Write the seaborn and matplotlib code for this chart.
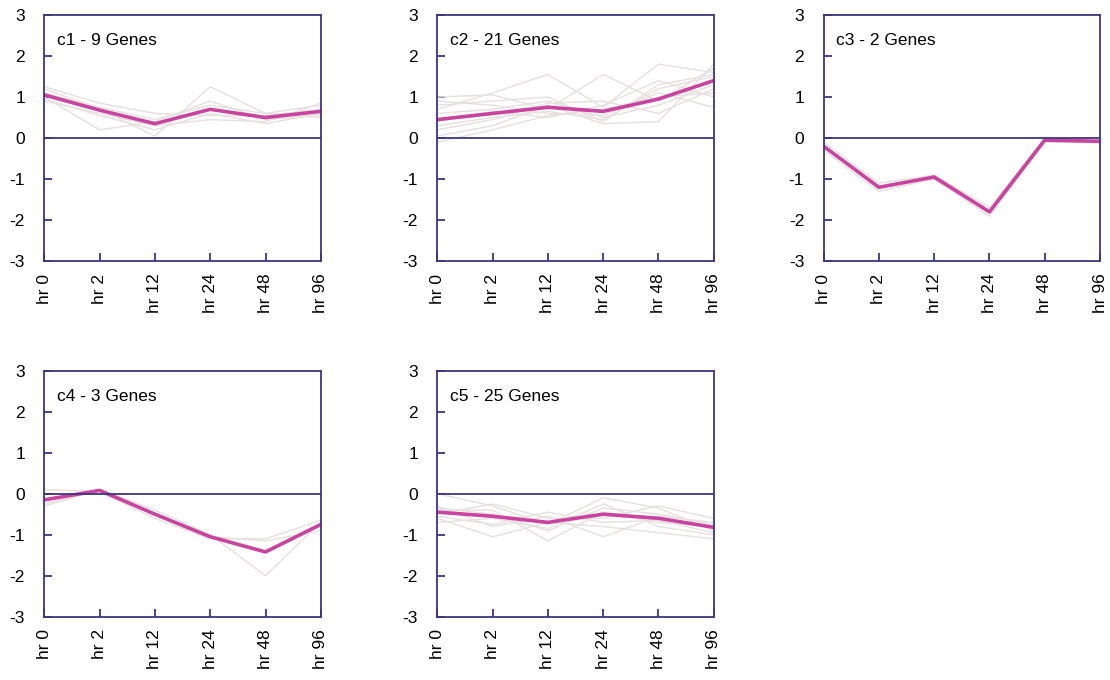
import pandas as pd
import matplotlib
matplotlib.use('Agg')
import matplotlib.pyplot as plt
import seaborn as sns

plt.rcParams['font.family'] = ['Liberation Sans', 'DejaVu Sans']

# Puntos de tiempo y etiquetas
timepoints = ['hr 0', 'hr 2', 'hr 12', 'hr 24', 'hr 48', 'hr 96']
cluster_titles = ['c1 - 9 Genes', 'c2 - 21 Genes', 'c3 - 2 Genes', 'c4 - 3 Genes', 'c5 - 25 Genes']

# Perfil medio de cada cluster
c1_mean = [1.05, 0.68, 0.35, 0.70, 0.50, 0.65]
c2_mean = [0.45, 0.60, 0.75, 0.65, 0.95, 1.40]
c3_mean = [-0.20, -1.20, -0.95, -1.80, -0.05, -0.08]
c4_mean = [-0.15, 0.08, -0.50, -1.05, -1.42, -0.75]
c5_mean = [-0.45, -0.55, -0.70, -0.50, -0.60, -0.82]

# Perfiles individuales de genes (estimados)
c1_genes = [
    [1.20, 0.70, 0.05, 1.25, 0.60, 0.80],
    [1.00, 0.20, 0.40, 0.90, 0.45, 0.55],
    [1.25, 0.85, 0.60, 0.55, 0.55, 0.70],
    [0.90, 0.60, 0.30, 0.45, 0.40, 0.85],
    [1.10, 0.75, 0.45, 0.80, 0.60, 0.50],
    [0.95, 0.55, 0.20, 0.60, 0.35, 0.60],
]
c2_genes = [
    [1.00, 1.05, 0.70, 1.55, 0.90, 1.70],
    [0.70, 1.10, 1.55, 0.75, 1.80, 1.60],
    [0.05, 0.30, 0.80, 0.35, 0.40, 1.80],
    [0.90, 0.80, 0.60, 0.55, 1.10, 0.75],
    [0.30, 0.50, 0.65, 0.45, 1.20, 1.50],
    [-0.10, 0.20, 0.55, 0.70, 1.00, 1.10],
    [0.60, 0.70, 0.90, 0.50, 0.80, 1.30],
    [0.20, 0.45, 0.85, 0.90, 0.60, 1.20],
    [0.80, 0.90, 1.00, 0.40, 1.30, 1.55],
    [0.40, 0.65, 0.50, 0.80, 1.40, 1.00],
]
c3_genes = [
    [-0.10, -1.10, -0.90, -1.70, 0.00, -0.05],
    [-0.30, -1.30, -1.00, -1.90, -0.10, -0.12],
]
c4_genes = [
    [-0.30, 0.10, -0.40, -1.00, -2.00, -0.70],
    [0.10, 0.05, -0.60, -1.10, -1.10, -0.65],
    [-0.25, 0.10, -0.50, -1.05, -1.15, -0.90],
]
c5_genes = [
    [0.00, -0.30, -0.75, -0.10, -0.35, -0.90],
    [-0.60, -1.05, -0.70, -0.80, -0.95, -1.10],
    [-0.40, -0.40, -1.15, -0.45, -0.70, -0.80],
    [-0.30, -0.80, -0.55, -1.05, -0.55, -0.70],
    [-0.70, -0.60, -0.85, -0.25, -0.80, -1.00],
    [-0.50, -0.25, -0.60, -0.60, -0.30, -0.60],
    [-0.55, -0.75, -0.45, -0.70, -0.65, -0.95],
    [-0.35, -0.50, -0.90, -0.35, -0.50, -0.75],
]

means = [c1_mean, c2_mean, c3_mean, c4_mean, c5_mean]
genes = [c1_genes, c2_genes, c3_genes, c4_genes, c5_genes]

frame_color = '#3d3680'
mean_color = '#c8449f'
gene_color = '#e6e0de'

fig = plt.figure(figsize=(11.1, 6.8), dpi=100)

# Posiciones de los paneles (izquierda, abajo)
lefts = [0.040, 0.394, 0.742, 0.040, 0.394]
bottoms = [0.616, 0.616, 0.616, 0.093, 0.093]
w, h = 0.249, 0.362

for i in range(5):
    ax = fig.add_axes([lefts[i], bottoms[i], w, h])
    rows = []
    for g, prof in enumerate(genes[i]):
        for t, v in enumerate(prof):
            rows.append({'gene': g, 'time': t, 'value': v})
    df_genes = pd.DataFrame(rows)
    df_mean = pd.DataFrame({'time': range(len(timepoints)), 'value': means[i]})

    sns.lineplot(data=df_genes, x='time', y='value', units='gene', estimator=None,
                 color=gene_color, linewidth=1.0, ax=ax, legend=False)
    sns.lineplot(data=df_mean, x='time', y='value', color=mean_color,
                 linewidth=2.6, ax=ax, legend=False)
    ax.axhline(0, color=frame_color, linewidth=1.3)

    ax.set_xlim(0, 5)
    ax.set_ylim(-3, 3)
    ax.set_xticks(range(6))
    ax.set_xticklabels(timepoints, rotation=90, fontsize=12.5)
    ax.set_yticks([-3, -2, -1, 0, 1, 2, 3])
    ax.set_yticklabels(['-3', '-2', '-1', '0', '1', '2', '3'], fontsize=12.5)
    ax.tick_params(direction='in', length=6, width=1.3, color=frame_color)
    ax.tick_params(axis='y', pad=14)
    ax.tick_params(axis='x', pad=9)
    ax.set_xlabel('')
    ax.set_ylabel('')
    for s in ax.spines.values():
        s.set_color(frame_color)
        s.set_linewidth(1.3)
    ax.text(0.045, 0.895, cluster_titles[i], transform=ax.transAxes,
            fontsize=12.5, va='center', ha='left')

fig.savefig('out.png', dpi=100)
